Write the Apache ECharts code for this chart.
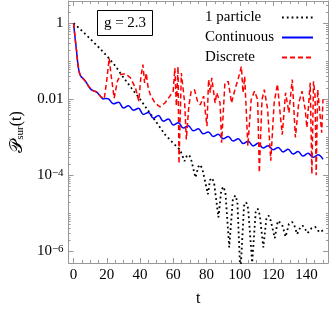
<!DOCTYPE html>
<html><head><meta charset="utf-8">
<script src="https://cdn.jsdelivr.net/npm/echarts@6/dist/echarts.min.js"></script>
<style>html,body{margin:0;padding:0;background:#fff}#c{width:332px;height:312px}</style>
</head><body><div id="c"></div>
<script>
// ---- data ----
const seriesNames = ['1 particle', 'Continuous', 'Discrete'];

const particleT = [0,5,10,15,20,25,30,35,40,45,50,55,60,64,66.7,68,69.3,70.5,73.3,75,76.2,77.5,80.8,82,83.3,84.5,87.1,88.8,90.1,91.3,93.6,95.8,97.3,98.5,100.3,102.5,103.8,105,107.4,109.5,110.7,112,114.1,116,117.3,118.6,121,122.8,124,125.3,127.5,129.5,131.5,132.8,134.4,136.5,137.8,139,140.7,143,145.3,147.8,150];
const particleV = [1,0.631,0.389,0.234,0.138,0.0759,0.0372,0.0191,0.01,0.0049,0.0024,0.00117,6.9e-4,4.7e-4,2.34e-4,3.16e-4,3.47e-4,2.8e-4,8.7e-5,1.66e-4,1.9e-4,1.41e-4,3.16e-5,7.4e-5,8.5e-5,6.3e-5,7.8e-6,4.0e-5,5.0e-5,3.55e-5,1.26e-6,2.4e-5,2.95e-5,2.0e-5,2.5e-7,1.58e-5,1.95e-5,1.32e-5,5e-7,1.07e-5,1.32e-5,8.9e-6,1.26e-6,7.6e-6,8.7e-6,6.3e-6,2.2e-6,6.3e-6,6.9e-6,5.2e-6,2.4e-6,5.2e-6,5.9e-6,4.7e-6,2.8e-6,4.4e-6,4.7e-6,4.0e-6,3.0e-6,4.0e-6,4.4e-6,3.16e-6,3.55e-6];

const continuousT = [0,0.8,1.7,2.7,3.6,4.6,6,7.5,9,10.5,12,13.5,15,16.5,18,19.5,21,24,27,30,33,36,39,42,45,48,51,54,57,60,63,66,69,72,75,78,81,84,87,90,93,96,99,102,105,108,111,114,117,120,123,126,129,132,135,138,141,144,147,150];
const continuousV = [1,0.447,0.2,0.0759,0.0479,0.0389,0.0339,0.0282,0.0219,0.0182,0.0166,0.0158,0.0138,0.0115,0.0102,0.0105,0.0102,0.00759,0.00832,0.00589,0.00676,0.00513,0.00575,0.00398,0.00447,0.00316,0.00372,0.00263,0.00302,0.00209,0.0024,0.00174,0.002,0.00148,0.00166,0.00123,0.00138,0.00105,0.0012,9.1e-4,1.05e-3,7.9e-4,9.1e-4,6.8e-4,7.8e-4,5.9e-4,6.9e-4,5.2e-4,6.0e-4,4.7e-4,5.4e-4,4.1e-4,4.8e-4,3.6e-4,4.2e-4,3.2e-4,3.8e-4,2.95e-4,3.47e-4,2.63e-4];

const discreteT = [0,0.8,1.7,2.7,3.6,4.6,6,7.5,9,10.5,12,13.5,15,16.5,18.4,20,21.4,22.4,24.4,26.3,28.3,31.3,34.2,37.2,39.2,40.5,41.7,42.7,43.7,44.7,46.1,49,52,54.9,57.9,59.9,60.9,61.8,62.8,63.4,64.8,65.8,66.8,67.8,69.3,70.7,72.7,74.5,76.2,78.2,80.2,81.2,82.2,83.1,85.1,86.1,88.1,89,91,93,95,97,98.9,100.9,101.9,102.9,104.8,106.8,108.8,110.7,111.7,113.3,114.7,116.7,118.6,120.6,122.6,124,125.5,127.5,129.5,131.5,133.4,135.4,137.4,139.3,140.3,142.3,143.3,144.3,145.2,145.9,146.8,149.2,150];
const discreteV = [1,0.447,0.2,0.0759,0.0479,0.0389,0.0339,0.0282,0.0219,0.0182,0.0166,0.0158,0.0138,0.0115,0.0102,0.0324,0.12,0.049,0.0107,0.0295,0.0447,0.0468,0.0363,0.02,0.0089,0.0398,0.0813,0.0269,0.049,0.0219,0.0132,0.00794,0.00631,0.00794,0.012,0.0162,0.0661,0.0066,0.0724,2.0e-4,0.049,0.0537,0.00794,8.7e-4,0.0066,0.0162,0.0178,0.0089,0.00708,0.012,0.00195,0.0331,0.0148,0.0363,0.00794,0.0148,0.00794,7.2e-4,0.0269,0.0295,0.00794,0.0178,0.0331,0.0724,0.0148,0.0398,5.9e-4,0.00977,0.0162,0.00977,1.17e-4,0.00977,0.0178,0.00537,2.4e-4,0.00794,0.0251,0.00537,0.00117,0.0148,0.00437,0.0331,9.8e-4,0.00794,0.0162,0.00537,0.00178,0.0269,1.07e-4,0.0295,0.0126,1.0e-4,0.0178,0.00132,0.01];

const xTicks = [0,20,40,60,80,100,120,140];
const xMinorTicks = [5,10,15,25,30,35,45,50,55,65,70,75,85,90,95,105,110,115,125,130,135,145,150];
const yTicks = [1,0.01,1e-4,1e-6];
const yTickLabels = ['1','0.01','10{s|\u22124}','10{s|\u22126}'];
const yMinorTicks = [3,2,0.9,0.8,0.7,0.6,0.5,0.4,0.3,0.2,0.1,0.09,0.08,0.07,0.06,0.05,0.04,0.03,0.02,
  0.009,0.008,0.007,0.006,0.005,0.004,0.003,0.002,0.001,9e-4,8e-4,7e-4,6e-4,5e-4,4e-4,3e-4,2e-4,
  9e-5,8e-5,7e-5,6e-5,5e-5,4e-5,3e-5,2e-5,1e-5,9e-6,8e-6,7e-6,6e-6,5e-6,4e-6,3e-6,2e-6];
const gLabel = 'g = 2.3';

// ---- chart ----
const SERIF = "'Liberation Serif','DejaVu Serif','Times New Roman',serif";
const FRAME = '#999';
const chart = echarts.init(document.getElementById('c'), null, {renderer: 'canvas'});
const pairs = (T, V) => T.map((t, i) => [t, V[i]]);
const X_MIN = -3, X_MAX = 153, Y_MIN = 4.9e-7, Y_MAX = 3.84;

function xAx(position, ticks, len, main) {
  return {
    type: 'value', min: X_MIN, max: X_MAX, position: position,
    axisLine: {show: main, onZero: false, lineStyle: {color: FRAME, width: 1}},
    axisTick: {show: true, inside: true, length: len, customValues: ticks, lineStyle: {color: FRAME, width: 1}},
    axisLabel: (main && position === 'bottom') ? {show: true, customValues: xTicks, color: '#000', fontFamily: SERIF, fontSize: 15, margin: 5} : {show: false},
    splitLine: {show: false},
    name: (main && position === 'bottom') ? 't' : '',
    nameLocation: 'middle', nameGap: 28,
    nameTextStyle: {color: '#000', fontFamily: SERIF, fontSize: 16}
  };
}
function yAx(position, ticks, len, main) {
  const isMainLeft = main && position === 'left';
  return {
    type: 'log', logBase: 10, min: Y_MIN, max: Y_MAX, position: position,
    axisLine: {show: main, onZero: false, lineStyle: {color: FRAME, width: 1}},
    axisTick: {show: true, inside: true, length: len, customValues: ticks, lineStyle: {color: FRAME, width: 1}},
    axisLabel: isMainLeft ? {
      show: true, customValues: yTicks, color: '#000', fontFamily: SERIF, fontSize: 15, margin: 5,
      formatter: function (v) {
        const i = yTicks.findIndex(u => Math.abs(Math.log10(u) - Math.log10(v)) < 0.01);
        return i >= 0 ? yTickLabels[i] : '';
      },
      rich: {s: {fontSize: 11, fontFamily: SERIF, color: '#000', verticalAlign: 'top', lineHeight: 12}}
    } : {show: false},
    splitLine: {show: false},
    name: isMainLeft ? '{p|\uD835\uDCAB}{sub|sur}{n|(t)}' : '',
    nameLocation: 'middle', nameGap: 41,
    nameTextStyle: {
      color: '#000', fontFamily: SERIF, fontSize: 16,
      rich: {
        p: {fontSize: 18, fontFamily: SERIF, color: '#000'},
        sub: {fontSize: 11, fontFamily: SERIF, color: '#000', verticalAlign: 'bottom', lineHeight: 14},
        n: {fontSize: 16, fontFamily: SERIF, color: '#000'}
      }
    }
  };
}

const option = {
  animation: false,
  backgroundColor: '#fff',
  grid: {left: 64, right: 4, top: 1, bottom: 48, containLabel: false},
  xAxis: [xAx('bottom', xTicks, 5, true), xAx('bottom', xMinorTicks, 3, false), xAx('top', xTicks, 5, true), xAx('top', xMinorTicks, 3, false)],
  yAxis: [yAx('left', yTicks, 5, true), yAx('left', yMinorTicks, 2, false), yAx('right', yTicks, 5, true), yAx('right', yMinorTicks, 2, false)],
  legend: {
    show: true, orient: 'vertical', left: 200, top: 5, align: 'right',
    itemWidth: 31, itemHeight: 14, itemGap: 5,
    itemStyle: {opacity: 0},
    formatter: '{a|{name}}',
    textStyle: {color: '#000', fontFamily: SERIF, fontSize: 15,
      rich: {a: {width: 72, align: 'left', fontFamily: SERIF, fontSize: 15, lineHeight: 14, color: '#000'}}},
    data: seriesNames
  },
  graphic: [{
    type: 'group', left: 97, top: 10,
    children: [
      {type: 'rect', shape: {x: 0, y: 0, width: 55, height: 25}, style: {fill: '#fff', stroke: '#000', lineWidth: 1}},
      {type: 'text', x: 27.5, y: 12.5, style: {text: gLabel, fill: '#000', font: "15px " + SERIF, align: 'center', verticalAlign: 'middle'}}
    ]
  }],
  series: [
    {name: seriesNames[0], type: 'line', data: pairs(particleT, particleV), xAxisIndex: 0, yAxisIndex: 0,
     symbol: 'none', showSymbol: false, clip: true, z: 2,
     lineStyle: {color: '#000', width: 1.8, type: [1.8, 3]}, itemStyle: {color: '#000'}},
    {name: seriesNames[1], type: 'line', data: pairs(continuousT, continuousV), xAxisIndex: 0, yAxisIndex: 0,
     symbol: 'none', showSymbol: false, clip: true, smooth: 0.4, z: 3,
     lineStyle: {color: '#0000ff', width: 1.5}, itemStyle: {color: '#0000ff'}},
    {name: seriesNames[2], type: 'line', data: pairs(discreteT, discreteV), xAxisIndex: 0, yAxisIndex: 0,
     symbol: 'none', showSymbol: false, clip: true, z: 4,
     lineStyle: {color: '#ff0000', width: 1.5, type: [5, 3]}, itemStyle: {color: '#ff0000'}}
  ]
};
chart.setOption(option);
</script>
</body></html>
